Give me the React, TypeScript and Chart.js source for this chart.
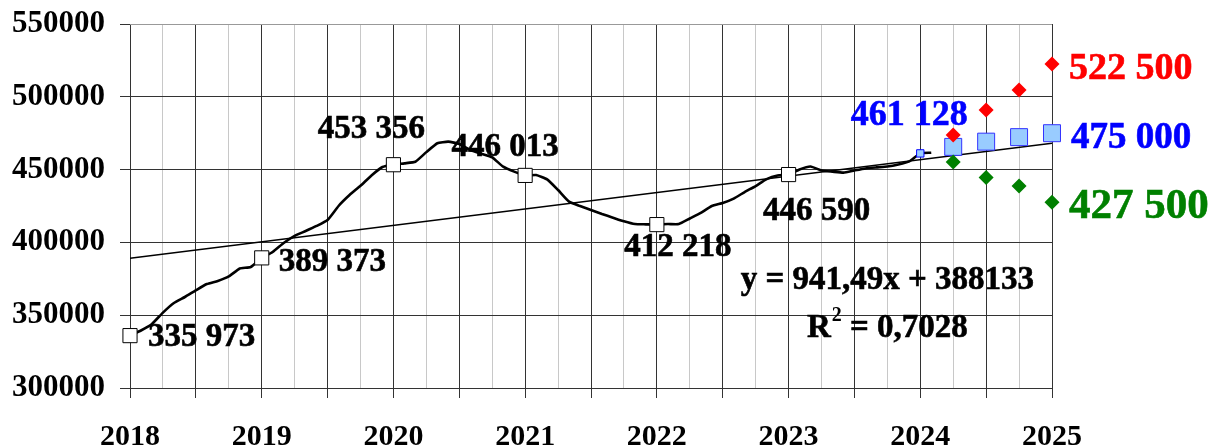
import React, { useEffect, useRef } from "react";
import { Chart, registerables } from "chart.js";

Chart.register(...registerables);

// ---- data ----
// monthly values, index 0 = January 2018
const monthlyValues = [
  335973, 339500, 344000, 351800, 358400, 362500, 367100, 371400, 373500, 376600, 382100, 383100,
  389373, 393400, 399600, 404500, 407800, 411300, 415400, 425000, 432500, 438900, 446000, 451800,
  453356, 454300, 455400, 462000, 468100, 469200, 467600, 463500, 460900, 458400, 452000, 448600,
  446013, 446300, 443300, 436000, 428000, 425000, 422300, 419500, 417000, 414500, 412600, 412400,
  412218, 412600, 412600, 416400, 420200, 425000, 427100, 430100, 434600, 438700, 443500, 446000,
  446590, 450100, 452100, 449400, 448600, 447900, 449400, 450800, 451500, 452100, 453500, 455600,
  461128, 461600,
];
const yearMarkerMonths = [0, 12, 24, 36, 48, 60];
const latestMonth = 72;
const forecastMonths = [75, 78, 81, 84];
const forecastBase = [465600, 469200, 472300, 475000];
const forecastHigh = [473800, 491000, 504700, 522500];
const forecastLow = [455300, 444600, 438700, 427500];
const trendMonths = [0, 84];
const trendValues = [389075, 468160];
const yearTickLabels = ["2018", "2019", "2020", "2021", "2022", "2023", "2024", "2025"];
const equationText = "y = 941,49x + 388133";
const r2Value = "0,7028";

const FONT = "'Liberation Serif', 'Times New Roman', serif";

const fmt = (v: number) =>
  Math.round(v)
    .toString()
    .replace(/\B(?=(\d{3})+(?!\d))/g, " ");

// label placement (offset from point in px, digit-centre)
const yearLabelPlacement = [
  { dx: 18, dy: -1, align: "left" },
  { dx: 17, dy: 2, align: "left" },
  { dx: -22, dy: -38, align: "center" },
  { dx: -20, dy: -31, align: "center" },
  { dx: 21, dy: 20, align: "center" },
  { dx: 28, dy: 34, align: "center" },
];

function drawDigits(
  ctx: CanvasRenderingContext2D,
  text: string,
  x: number,
  cy: number,
  align: CanvasTextAlign,
  size: number,
  color: string
) {
  ctx.font = `bold ${size}px ${FONT}`;
  ctx.textAlign = align;
  ctx.textBaseline = "alphabetic";
  ctx.fillStyle = color;
  ctx.strokeStyle = color;
  ctx.lineWidth = 0.6;
  ctx.fillText(text, x, cy + 0.338 * size);
  ctx.strokeText(text, x, cy + 0.338 * size);
}

const labelPlugin = {
  id: "labelPlugin",
  afterDatasetsDraw(chart: any) {
    const ctx: CanvasRenderingContext2D = chart.ctx;
    const xs = chart.scales.x;
    const ys = chart.scales.y;
    ctx.save();
    yearMarkerMonths.forEach((m, i) => {
      const p = yearLabelPlacement[i];
      const px = xs.getPixelForValue(m);
      const py = ys.getPixelForValue(monthlyValues[m]);
      drawDigits(ctx, fmt(monthlyValues[m]), px + p.dx, py + p.dy, p.align as CanvasTextAlign, 33, "#000");
    });
    // latest value
    {
      const px = xs.getPixelForValue(latestMonth);
      const py = ys.getPixelForValue(monthlyValues[latestMonth]);
      drawDigits(ctx, fmt(monthlyValues[latestMonth]), px - 11, py - 41, "center", 36, "#0000ff");
    }
    // forecast end labels
    const last = forecastMonths.length - 1;
    const fx = xs.getPixelForValue(forecastMonths[last]);
    drawDigits(ctx, fmt(forecastHigh[last]), fx + 17, ys.getPixelForValue(forecastHigh[last]) + 2, "left", 38, "#ff0000");
    drawDigits(ctx, fmt(forecastBase[last]), fx + 19, ys.getPixelForValue(forecastBase[last]) + 2, "left", 37, "#0000ff");
    drawDigits(ctx, fmt(forecastLow[last]), fx + 17, ys.getPixelForValue(forecastLow[last]) + 1, "left", 43, "#008000");

    // trend equation
    const ex = xs.getPixelForValue(69);
    const ey1 = ys.getPixelForValue(375900);
    const ey2 = ys.getPixelForValue(342600);
    drawDigits(ctx, equationText, ex, ey1, "center", 33, "#000");
    const size = 33;
    ctx.font = `bold ${size}px ${FONT}`;
    const wR = ctx.measureText("R").width;
    const rest = " = " + r2Value;
    const wRest = ctx.measureText(rest).width;
    ctx.font = `bold 20px ${FONT}`;
    const wSup = ctx.measureText("2").width;
    const total = wR + wSup + 1 + wRest;
    const sx = ex - total / 2;
    const base = ey2 + 0.338 * size;
    ctx.textAlign = "left";
    ctx.textBaseline = "alphabetic";
    ctx.fillStyle = "#000";
    ctx.strokeStyle = "#000";
    ctx.lineWidth = 0.6;
    ctx.font = `bold ${size}px ${FONT}`;
    ctx.fillText("R", sx, base);
    ctx.strokeText("R", sx, base);
    ctx.font = `bold 20px ${FONT}`;
    ctx.fillText("2", sx + wR + 1, base - 16);
    ctx.font = `bold ${size}px ${FONT}`;
    ctx.fillText(rest, sx + wR + wSup + 1, base);
    ctx.strokeText(rest, sx + wR + wSup + 1, base);
    ctx.restore();
  },
};

export default function App() {
  const ref = useRef<HTMLCanvasElement | null>(null);

  useEffect(() => {
    if (!ref.current) return;
    const mainData = monthlyValues.map((v, i) => ({ x: i, y: v }));
    const chart = new Chart(ref.current, {
      type: "scatter",
      data: {
        datasets: [
          {
            label: "high",
            data: forecastMonths.map((m, i) => ({ x: m, y: forecastHigh[i] })),
            showLine: false,
            pointStyle: "rectRot",
            pointRadius: 7.5,
            backgroundColor: "#ff0000",
            borderColor: "#ff0000",
            pointBorderWidth: 0,
            clip: false,
          },
          {
            label: "low",
            data: forecastMonths.map((m, i) => ({ x: m, y: forecastLow[i] })),
            showLine: false,
            pointStyle: "rectRot",
            pointRadius: 7.5,
            backgroundColor: "#008000",
            borderColor: "#008000",
            pointBorderWidth: 0,
            clip: false,
          },
          {
            label: "base",
            data: forecastMonths.map((m, i) => ({ x: m, y: forecastBase[i] })),
            showLine: false,
            pointStyle: "rect",
            pointRadius: 12,
            backgroundColor: "#99ccff",
            borderColor: "#3333ff",
            pointBorderWidth: 1,
            clip: false,
          },
          {
            label: "monthly",
            data: mainData,
            showLine: true,
            borderColor: "#000",
            borderWidth: 2.6,
            tension: 0.15,
            pointStyle: "rect",
            pointRadius: (c: any) =>
              yearMarkerMonths.includes(c.dataIndex) ? 10 : c.dataIndex === latestMonth ? 5.2 : 0,
            pointHoverRadius: 0,
            pointBackgroundColor: (c: any) => (c.dataIndex === latestMonth ? "#99ccff" : "#ffffff"),
            pointBorderColor: (c: any) => (c.dataIndex === latestMonth ? "#0000ff" : "#000"),
            pointBorderWidth: 1,
            clip: false,
          },
          {
            label: "trend",
            data: trendMonths.map((m, i) => ({ x: m, y: trendValues[i] })),
            showLine: true,
            borderColor: "#000",
            borderWidth: 1.5,
            pointRadius: 0,
            tension: 0,
          },
        ],
      },
      options: {
        animation: false,
        responsive: true,
        maintainAspectRatio: false,
        events: [],
        layout: { padding: { top: 24, right: 158, left: 0, bottom: 0 } },
        plugins: {
          legend: { display: false },
          tooltip: { enabled: false },
          title: { display: false },
        },
        scales: {
          x: {
            type: "linear",
            min: 0,
            max: 84,
            afterFit: (s: any) => {
              s.height = 60;
              s.paddingLeft = 0;
              s.paddingRight = 0;
            },
            ticks: {
              stepSize: 3,
              autoSkip: false,
              maxRotation: 0,
              padding: 21,
              color: "#000",
              font: { family: FONT, size: 30, weight: "bold" },
              callback: (v: any) => (Number(v) % 12 === 0 ? yearTickLabels[Number(v) / 12] : ""),
            },
            grid: {
              color: (c: any) => (c.tick && c.tick.value % 6 === 0 ? "#333" : "#c8c8c8"),
              tickColor: (c: any) => (c.tick && c.tick.value % 6 === 0 ? "#333" : "rgba(0,0,0,0)"),
              tickLength: 10,
              lineWidth: 1,
            },
            border: { display: false },
          },
          y: {
            type: "linear",
            min: 300000,
            max: 550000,
            afterFit: (s: any) => {
              s.width = 130;
              s.paddingTop = 0;
              s.paddingBottom = 0;
            },
            ticks: {
              stepSize: 50000,
              padding: 15,
              color: "#000",
              font: { family: FONT, size: 31, weight: "bold" },
              callback: (v: any) => String(v),
            },
            grid: {
              color: (c: any) => (c.tick && c.tick.value === 550000 ? "#999" : "#333"),
              tickColor: "#333",
              tickLength: 10,
              lineWidth: 1,
            },
            border: { display: false },
          },
        },
      },
      plugins: [labelPlugin],
    } as any);
    return () => chart.destroy();
  }, []);

  return (
    <div style={{ position: "absolute", left: 0, top: 0, width: 1210, height: 448, background: "#fff" }}>
      <canvas ref={ref} />
    </div>
  );
}
